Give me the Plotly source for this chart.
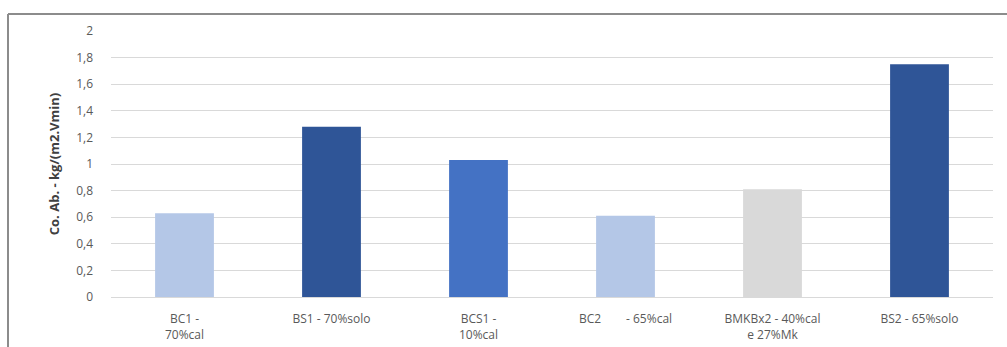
import plotly.graph_objects as go

# Sample categories and measured absorption coefficients
categories = [
    "BC1 -<br>70%cal",
    "BS1 - 70%solo",
    "BCS1 -<br>10%cal",
    "BC2\u00a0\u00a0\u00a0\u00a0\u00a0\u00a0\u00a0 - 65%cal",
    "BMKBx2 - 40%cal<br>e 27%Mk",
    "BS2 - 65%solo",
]
values = [0.63, 1.28, 1.03, 0.61, 0.81, 1.75]
bar_colors = ["#B4C7E7", "#2F5597", "#4472C4", "#B4C7E7", "#D9D9D9", "#2F5597"]
y_ticks = [0, 0.2, 0.4, 0.6, 0.8, 1, 1.2, 1.4, 1.6, 1.8, 2]

W, H = 1007, 347
ML, MR, MT, MB = 111, 14, 31, 50
plot_w = W - ML - MR
plot_h = H - MT - MB

fig = go.Figure(
    go.Bar(
        x=categories,
        y=values,
        marker=dict(color=bar_colors, line=dict(width=0)),
        hoverinfo="x+y",
    )
)

font_family = "Open Sans, Liberation Sans, sans-serif"

fig.update_layout(
    width=W,
    height=H,
    margin=dict(l=ML, r=MR, t=MT, b=MB, autoexpand=False),
    paper_bgcolor="white",
    plot_bgcolor="white",
    separators=",.",
    bargap=0.6,
    showlegend=False,
    font=dict(family=font_family, size=12, color="#595959"),
    xaxis=dict(
        automargin=False,
        showgrid=False,
        showline=True,
        linecolor="#D9D9D9",
        linewidth=1,
        ticks="",
        ticklabelstandoff=11,
        tickfont=dict(size=12, color="#595959"),
        tickangle=0,
        fixedrange=True,
    ),
    yaxis=dict(
        automargin=False,
        range=[0, 2],
        tickvals=y_ticks,
        showgrid=True,
        gridcolor="#D9D9D9",
        gridwidth=1,
        zeroline=False,
        showline=False,
        ticks="",
        ticklabelstandoff=17,
        tickfont=dict(size=12, color="#595959"),
        title=dict(
            text="<b>Co. Ab. - kg/(m2.Vmin)</b>",
            font=dict(size=13, color="#404040"),
            standoff=13,
        ),
        fixedrange=True,
    ),
)

# Outer chart frame: top and left edges
x_left = (8 - ML) / plot_w
x_right = (W - ML) / plot_w
y_top = (H - MB - 14) / plot_h
y_bottom = (H - MB - H) / plot_h
fig.add_shape(type="line", xref="paper", yref="paper",
              x0=x_left, x1=x_right, y0=y_top, y1=y_top,
              line=dict(color="#8C8C8C", width=2))
fig.add_shape(type="line", xref="paper", yref="paper",
              x0=x_left, x1=x_left, y0=y_top, y1=y_bottom,
              line=dict(color="#8C8C8C", width=2))

fig.write_html("out.html")
